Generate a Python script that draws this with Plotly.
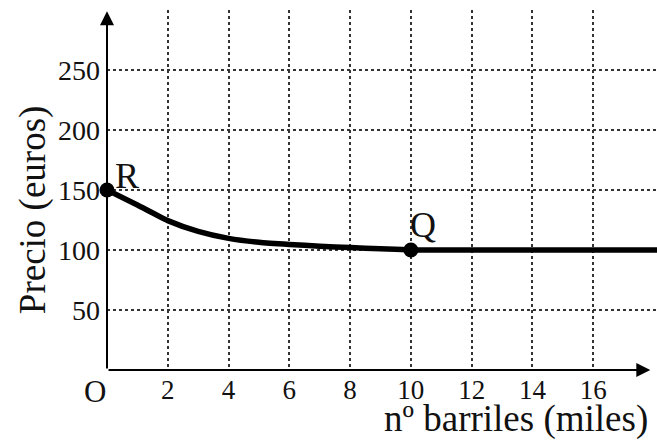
import plotly.graph_objects as go

# Price curve: thousands of barrels vs price in euros
barrels = [0, 1, 2, 3, 4, 5, 6, 7, 8, 9, 10, 18.1]
price = [150, 137.5, 124.5, 115.5, 109.7, 106.4, 104.6, 103.2, 102.0, 101.0, 100, 100]

# Highlighted points
point_names = ["R", "Q"]
point_x = [0, 10]
point_y = [150, 100]

x_ticks = [2, 4, 6, 8, 10, 12, 14, 16]
y_ticks = [50, 100, 150, 200, 250]

FONT = "Liberation Serif, Times New Roman, serif"
INK = "#111111"

fig = go.Figure()

fig.add_trace(go.Scatter(
    x=barrels, y=price, mode="lines", line=dict(color="black", width=5.5, shape="spline", smoothing=0.6),
    hoverinfo="skip", showlegend=False,
))
fig.add_trace(go.Scatter(
    x=point_x, y=point_y, mode="markers", marker=dict(color="black", size=15),
    showlegend=False, cliponaxis=False,
))

# Axes drawn as arrows
fig.add_annotation(x=0, y=299, ax=0, ay=0, xref="x", yref="y", axref="x", ayref="y",
                   text="", showarrow=True, arrowhead=2, arrowsize=1.4, arrowwidth=2, arrowcolor="black")
fig.add_annotation(x=17.88, y=0, ax=0, ay=0, xref="x", yref="y", axref="x", ayref="y",
                   text="", showarrow=True, arrowhead=2, arrowsize=1.4, arrowwidth=2, arrowcolor="black")

# Point labels
fig.add_annotation(x=0.66, y=161.5, text=point_names[0], showarrow=False,
                   font=dict(family=FONT, size=36, color=INK))
fig.add_annotation(x=10.4, y=120.5, text=point_names[1], showarrow=False,
                   font=dict(family=FONT, size=36, color=INK))

# Origin label and axis titles (placed in paper coordinates, outside the plot area)
centered = dict(xref="paper", yref="paper", xanchor="center", yanchor="middle", showarrow=False)
fig.add_annotation(x=-0.0218, y=-0.061, text="O",
                   font=dict(family=FONT, size=31, color=INK), **centered)
fig.add_annotation(x=-0.1345, y=0.444, text="Precio (euros)", textangle=-90,
                   font=dict(family=FONT, size=37, color=INK), **centered)
fig.add_annotation(x=0.7436, y=-0.136, text="n\u00ba barriles (miles)",
                   font=dict(family=FONT, size=37, color=INK), **centered)

fig.update_xaxes(
    range=[0, 18.1], tickvals=x_ticks, ticktext=[str(v) for v in x_ticks],
    showgrid=True, gridcolor="#333333", gridwidth=1.5, griddash="dot",
    zeroline=False, showline=False, ticks="", ticklabelstandoff=1,
    tickfont=dict(family=FONT, size=27, color=INK), fixedrange=True,
)
fig.update_yaxes(
    range=[0, 300], tickvals=y_ticks, ticktext=[str(v) for v in y_ticks],
    showgrid=True, gridcolor="#333333", gridwidth=1.5, griddash="dot",
    zeroline=False, showline=False, ticks="", ticklabelstandoff=6,
    tickfont=dict(family=FONT, size=28, color=INK), fixedrange=True,
)

fig.update_layout(
    width=657, height=446,
    margin=dict(l=107, r=0, t=10, b=76),
    paper_bgcolor="white", plot_bgcolor="white",
    showlegend=False,
)

fig.write_html("out.html", config={"displayModeBar": False})
